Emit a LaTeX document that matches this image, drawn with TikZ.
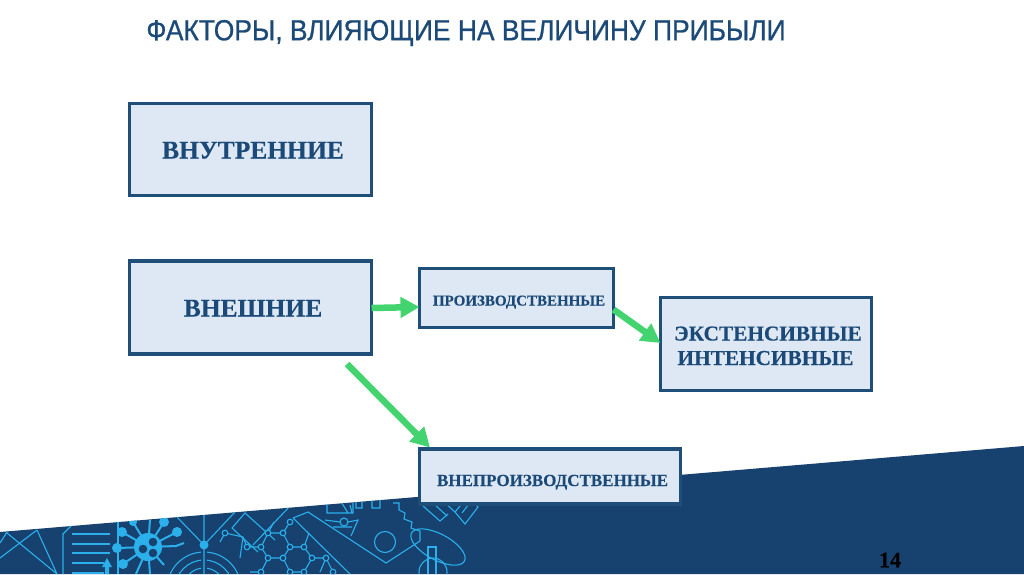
\documentclass[tikz,border=0pt]{standalone}
\usepackage{fontspec}
\setmainfont[BoldFeatures={FakeBold=0.3}]{Liberation Serif}
\newfontfamily\titlefont[FakeStretch=0.91,FakeBold=0.8]{Liberation Sans}
\usetikzlibrary{arrows.meta}
\definecolor{bandblue}{HTML}{17426F}
\definecolor{boxfill}{HTML}{DEE8F5}
\definecolor{boxline}{HTML}{1F4E79}
\definecolor{titleblue}{HTML}{1C4A78}
\definecolor{arrowgreen}{HTML}{43D46F}
\definecolor{patblue}{HTML}{2BB0EC}
\newcommand{\boxtxt}[3]{\hspace*{#1pt}\raisebox{#2pt}[0pt][0pt]{\makebox[0pt]{#3}}}
\tikzset{
  fbox/.style={draw=boxline,line width=3.2pt,fill=boxfill,inner sep=0pt,outer sep=0pt,text=titleblue,font=\bfseries},
  farrow/.style={draw=arrowgreen,line width=6.5pt,-{Triangle[width=20pt,length=19pt]}},
  pat/.style={draw=patblue,line width=1.1pt},
  patdot/.style={draw=patblue,line width=1.1pt,fill=bandblue}
}
\begin{document}
\begin{tikzpicture}[x=1pt,y=-1pt]
\useasboundingbox (0,0) rectangle (1024,574);
\fill[white] (0,0) rectangle (1024,574);
% band
\fill[bandblue] (0,532) -- (1024,446) -- (1024,574) -- (0,574) -- cycle;
\begin{scope}
\clip (0,532) -- (1024,446) -- (1024,574) -- (0,574) -- cycle;
% envelope
\draw[pat] (7,533) -- (57,574) (37,530) -- (0,558) (37,530) -- (57,574) (7,532) -- (0,543);
% document
\draw[pat] (72,525) -- (63,534) -- (63,574);
\draw[pat,line width=1.3pt] (72,534) -- (110,534) (72,544) -- (110,544) (72,553) -- (110,553) (72,563) -- (104,563) (72,573) -- (104,573);
\draw[pat] (118,520) -- (118,574);
\fill[patblue] (107,558) -- (112,567) -- (109,567) -- (109,574) -- (105,574) -- (105,567) -- (102,567) -- cycle;
% virus
\draw[patblue,line width=2pt] (148,547) -- (117,548) (148,547) -- (122,532) (148,547) -- (123,564) (148,547) -- (177,532) (148,547) -- (164,522) (148,547) -- (133,522) (148,547) -- (176,546) -- (184,543) (148,547) -- (150,520) (148,547) -- (150,574) (148,547) -- (136,574) (148,547) -- (164,565);
\fill[patblue] (148,547) circle[radius=14] (117,548) circle[radius=5] (122,532) circle[radius=5] (123,564) circle[radius=5] (177,532) circle[radius=5] (164,522) circle[radius=5] (133,522) circle[radius=4];
\draw[patdot,line width=1pt] (153,542) circle[radius=5] (143,549) circle[radius=5] (153,553) circle[radius=5];
% radar
\draw[pat] (204,515) -- (204,574) (204,545) -- (177,517) (204,545) -- (235,512);
\fill[patblue] (204,545) circle[radius=4.5];
\begin{scope}
\clip (0,545) rectangle (201,574) (207,545) rectangle (300,574);
\draw[pat] (204,589) circle[radius=37] (204,589) circle[radius=29] (204,589) circle[radius=21];
\end{scope}
% diagonal piece
\draw[pat] (232,528) -- (245,513) -- (275,540) (232,528) -- (258,552) (253,545) -- (291,505);
\draw[pat] (225,533) -- (243,537) -- (247,547) (225,533) -- (220,542) (243,537) -- (240,558);
% hexagons
\draw[pat] (290,522) -- (283,533) -- (268,533) -- (261,547) -- (268,558) -- (283,558) -- (290,547) -- (283,533)
  (261,547) -- (247,547) (290,547) -- (304,547) -- (312,558) -- (326,558) -- (333,572)
  (304,547) -- (309,533) (283,558) -- (290,572) -- (304,572) -- (312,558) (268,558) -- (261,572) -- (250,572) (268,533) -- (274,522) (326,558) -- (320,572);
\foreach \p in {(290,522),(283,533),(268,533),(261,547),(247,547),(268,558),(283,558),(290,547),(304,547),(312,558),(326,558),(333,572),(290,572),(304,572),(261,572),(225,533)}
  \draw[patdot] \p circle[radius=2.8];
% wrench body
\draw[pat] (293,518) -- (308,512) -- (386,563) -- (420,541);
\draw[pat] (293,518) -- (350,574);
\draw[pat] (385,542) circle[radius=10.5];
\draw[pat,rotate around={-28:(438,547)}] (438,547) ellipse[x radius=30,y radius=13];
% gear
\draw[pat] (350,505) -- (352,513) (393,503) -- (399,503) -- (399,510) -- (405,513) -- (404,519) -- (412,522) -- (411,528) -- (420,531) -- (420,541);
\draw[pat] (327,503) -- (327,513) -- (353,513) -- (353,503) (340,500) -- (348,513) (356,500) -- (356,508) -- (362,508) -- (362,498) -- (372,498) -- (372,508) -- (380,508) -- (380,497);
\draw[pat] (325,520) -- (340,522) (348,522) -- (358,520) -- (351,536) (333,527) -- (352,527);
\draw[patdot] (344,522) circle[radius=4];
% hand
\draw[pat] (423,506) -- (440,521) -- (448,514) (433,503) -- (447,516) (442,500) -- (455,512) (465,500) -- (455,512) -- (465,524) -- (478,507) -- (472,500) -- (462,513) (466,497) -- (478,507);
% probe
\draw[pat] (428,574) -- (428,547) -- (436,547) -- (436,574);
\draw[pat] (433,572) circle[radius=14];
\end{scope}
% boxes
\node[fbox,minimum width=242pt,minimum height=92pt] (inner) at (250.5,149.5) {\fontsize{25.5}{28}\selectfont\boxtxt{5}{-9}{ВНУТРЕННИЕ}};
\node[fbox,minimum width=242pt,minimum height=93pt] (outer) at (250.5,307.5) {\fontsize{25.5}{28}\selectfont\boxtxt{5}{-9}{ВНЕШНИЕ}};
\node[fbox,minimum width=194pt,minimum height=59pt] (prod) at (516.5,298) {\fontsize{15}{18}\selectfont\boxtxt{5}{-7.5}{ПРОИЗВОДСТВЕННЫЕ}};
\node[fbox,minimum width=211pt,minimum height=93pt] (ext) at (766,344) {\fontsize{21.3}{25}\selectfont\boxtxt{1.5}{3.5}{ЭКСТЕНСИВНЫЕ}\boxtxt{-2.5}{-21}{ИНТЕНСИВНЫЕ}};
\node[fbox,minimum width=261pt,minimum height=55pt] (nonprod) at (550,476.5) {\fontsize{17}{20}\selectfont\boxtxt{5}{-9.5}{ВНЕПРОИЗВОДСТВЕННЫЕ}};
% arrows
\coordinate (nonstart) at (347,364);
\draw[farrow] ([yshift=-.5pt]outer.east) -- ([yshift=-9pt]prod.west);
\draw[farrow] ([yshift=18pt]prod.south east) -- ([yshift=1pt]ext.west);
\draw[farrow] (nonstart) -- ([xshift=10.5pt,yshift=1.5pt]nonprod.north west);
% title, number
\node[font=\titlefont\fontsize{29}{32}\selectfont,text=titleblue,inner sep=0pt] (title) at (466,33) {ФАКТОРЫ, ВЛИЯЮЩИЕ НА ВЕЛИЧИНУ ПРИБЫЛИ};
\node[font=\bfseries\fontsize{22}{26}\selectfont,text=black,inner sep=0pt] (page) at (890,560) {14};
\end{tikzpicture}
\end{document}
